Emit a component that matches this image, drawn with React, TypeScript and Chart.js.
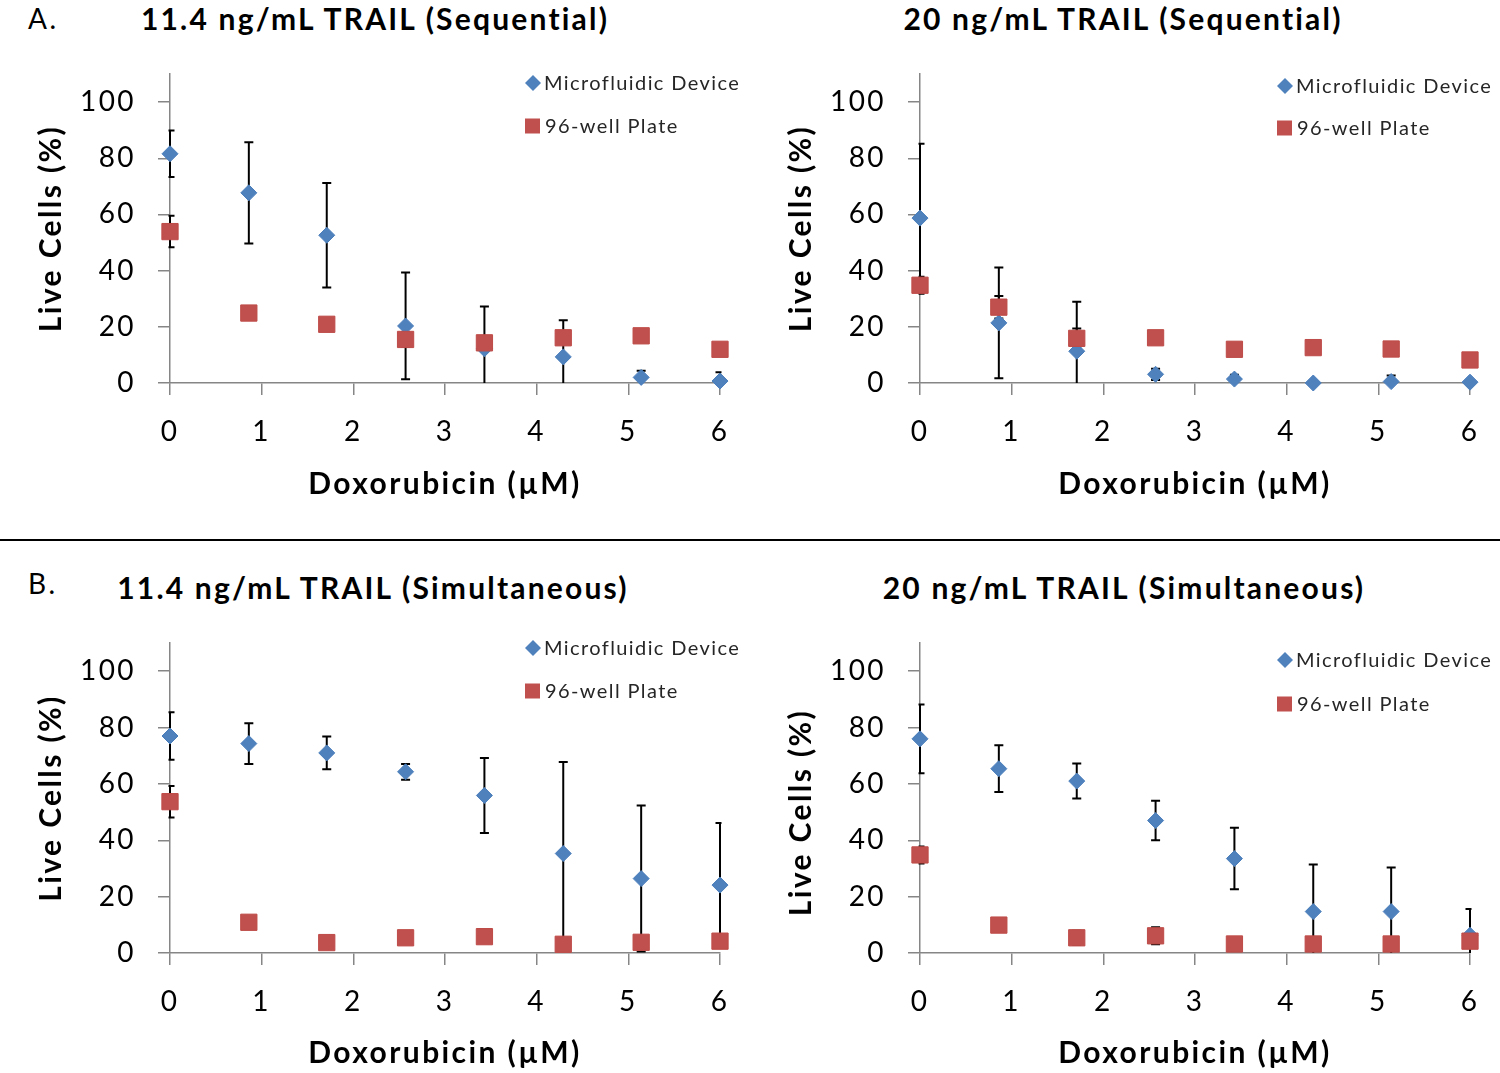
import React, { useEffect, useRef } from 'react';
import { Chart, registerables } from 'chart.js';

Chart.register(...registerables);

const FONT = 'Lato, "Open Sans", "Noto Sans", sans-serif';

// Doxorubicin concentrations (µM)
const doxorubicin = [0, 0.86, 1.71, 2.57, 3.43, 4.29, 5.14, 6];
const xTicks = [0, 1, 2, 3, 4, 5, 6];
const yTicks = [0, 20, 40, 60, 80, 100];

// A. 11.4 ng/mL TRAIL (Sequential)
const seqLowDevice = [81.6, 67.7, 52.6, 20.3, 12.2, 9.3, 2.0, 0.7];
const seqLowDeviceErr = [8.3, 18, 18.6, 19, 15, 13, 2.4, 3.1];
const seqLowPlate = [53.9, 24.9, 20.9, 15.5, 14.3, 16.1, 16.8, 12.0];
const seqLowPlateErr = [5.6, 1.5, 0, 2.5, 0, 0, 0, 2];

// A. 20 ng/mL TRAIL (Sequential)
const seqHighDevice = [58.7, 21.4, 11.3, 3.1, 1.4, 0, 0.5, 0.3];
const seqHighDeviceErr = [26.5, 19.7, 17.6, 2, 1.5, 0, 2.2, 0];
const seqHighPlate = [34.8, 27.0, 15.9, 16.1, 12.0, 12.6, 12.1, 8.2];
const seqHighPlateErr = [3, 4, 3.5, 1, 0, 0, 0, 0];

// B. 11.4 ng/mL TRAIL (Simultaneous)
const simLowDevice = [77.0, 74.3, 71.0, 64.3, 55.9, 35.3, 26.4, 24.1];
const simLowDeviceErr = [8.4, 7.2, 5.8, 2.8, 13.3, 32.5, 25.9, 22];
const simLowPlate = [53.7, 10.9, 3.7, 5.4, 5.8, 3.1, 3.8, 4.2];
const simLowPlateErr = [5.6, 1.5, 0, 2, 0, 0, 1, 2];

// B. 20 ng/mL TRAIL (Simultaneous)
const simHighDevice = [76.0, 65.4, 61.0, 47.0, 33.5, 14.7, 14.7, 6.3];
const simHighDeviceErr = [12.2, 8.3, 6.2, 7, 10.9, 16.7, 15.6, 9.3];
const simHighPlate = [34.8, 9.9, 5.4, 6.1, 3.2, 3.2, 3.2, 4.2];
const simHighPlateErr = [3, 0, 2.5, 3, 0, 0, 0, 2];

const seriesNames = ['Microfluidic Device', '96-well Plate'];
const xTitle = 'Doxorubicin (µM)';
const yTitle = 'Live Cells (%)';

const BLUE = '#4F81BD';
const BLUE_EDGE = '#4A7EBB';
const RED = '#C0504D';
const RED_EDGE = '#BE4B48';
const AXIS = '#868686';

const spacingPlugin = {
  id: 'letterSpacing',
  beforeDraw(chart: any) {
    (chart.ctx as any).letterSpacing = '2.4px';
  },
};

const errorBarPlugin = {
  id: 'errorBars',
  beforeDatasetsDraw(chart: any) {
    const { ctx, chartArea, scales } = chart;
    const x = scales.x;
    const y = scales.y;
    ctx.save();
    ctx.beginPath();
    ctx.rect(chartArea.left - 1.5, chartArea.top - 20, chartArea.right - chartArea.left + 3, chartArea.bottom - chartArea.top + 20);
    ctx.clip();
    ctx.strokeStyle = '#000';
    ctx.lineWidth = 2;
    chart.data.datasets.forEach((ds: any) => {
      const errs = ds.errors as number[] | undefined;
      if (!errs) return;
      ds.data.forEach((pt: any, i: number) => {
        const e = errs[i];
        if (!e) return;
        const px = x.getPixelForValue(pt.x);
        const top = y.getPixelForValue(pt.y + e);
        const bot = y.getPixelForValue(Math.max(pt.y - e, -5));
        ctx.beginPath();
        ctx.moveTo(px, top);
        ctx.lineTo(px, bot);
        ctx.moveTo(px - 4.5, top);
        ctx.lineTo(px + 4.5, top);
        if (pt.y - e >= 0) {
          ctx.moveTo(px - 4.5, bot);
          ctx.lineTo(px + 4.5, bot);
        }
        ctx.stroke();
      });
    });
    ctx.restore();
  },
};

const legendPlugin = {
  id: 'cornerLegend',
  afterDraw(chart: any) {
    const opts = chart.options.plugins.cornerLegend;
    if (!opts) return;
    const { ctx } = chart;
    ctx.save();
    (ctx as any).letterSpacing = '1.4px';
    ctx.font = `20px ${FONT}`;
    ctx.textBaseline = 'middle';
    ctx.textAlign = 'left';
    const ds = chart.data.datasets;
    // diamond
    const dx = opts.x + 8;
    const y1 = opts.y1;
    ctx.beginPath();
    ctx.moveTo(dx - 8, y1);
    ctx.lineTo(dx, y1 - 8);
    ctx.lineTo(dx + 8, y1);
    ctx.lineTo(dx, y1 + 8);
    ctx.closePath();
    ctx.fillStyle = BLUE;
    ctx.fill();
    ctx.fillStyle = '#262626';
    ctx.fillText(ds[0].label, opts.x + 19, y1 + 1);
    // square
    const y2 = opts.y2;
    ctx.fillStyle = RED;
    ctx.fillRect(opts.x, y2 - 7.5, 15, 15);
    ctx.fillStyle = '#262626';
    ctx.fillText(ds[1].label, opts.x + 20, y2 + 1);
    ctx.restore();
  },
};

type PanelProps = {
  left: number;
  top: number;
  width: number;
  height: number;
  padTop: number;
  padBottom: number;
  xHeight: number;
  xTitlePad: number;
  yTitleText: string;
  device: number[];
  deviceErr: number[];
  plate: number[];
  plateErr: number[];
  legendX: number;
  legendY1: number;
  legendY2: number;
};

function Panel(p: PanelProps) {
  const ref = useRef<HTMLCanvasElement>(null);
  useEffect(() => {
    const tickFont = { family: FONT, size: 28 };
    const titleFont = { family: FONT, size: 30, weight: 'bold' as const };
    const chart = new Chart(ref.current as HTMLCanvasElement, {
      type: 'scatter',
      data: {
        datasets: [
          {
            label: seriesNames[0],
            data: doxorubicin.map((x, i) => ({ x, y: p.device[i] })),
            errors: p.deviceErr,
            pointStyle: 'rectRot',
            pointRadius: 8,
            pointHoverRadius: 8,
            backgroundColor: BLUE,
            borderColor: BLUE_EDGE,
            borderWidth: 1,
            order: 2,
            clip: false,
          } as any,
          {
            label: seriesNames[1],
            data: doxorubicin.map((x, i) => ({ x, y: p.plate[i] })),
            errors: p.plateErr,
            pointStyle: 'rect',
            pointRadius: 11.5,
            pointHoverRadius: 11.5,
            backgroundColor: RED,
            borderColor: RED_EDGE,
            borderWidth: 1,
            order: 1,
            clip: false,
          } as any,
        ],
      },
      options: {
        responsive: false,
        animation: false,
        events: [],
        layout: {
          autoPadding: false,
          padding: { left: 0, top: p.padTop, right: 30, bottom: p.padBottom },
        },
        plugins: {
          legend: { display: false },
          tooltip: { enabled: false },
          cornerLegend: { x: p.legendX, y1: p.legendY1, y2: p.legendY2 },
        } as any,
        scales: {
          x: {
            type: 'linear',
            min: 0,
            max: 6,
            afterFit: (s: any) => {
              s.height = p.xHeight;
            },
            afterBuildTicks: (s: any) => {
              s.ticks = xTicks.map((v) => ({ value: v }));
            },
            ticks: {
              stepSize: 1,
              padding: 20,
              color: '#000',
              font: tickFont,
              maxRotation: 0,
            },
            grid: {
              drawOnChartArea: false,
              drawTicks: true,
              tickLength: 12,
              color: AXIS,
              lineWidth: 1.5,
            },
            border: { display: true, color: AXIS, width: 1.5 },
            title: {
              display: true,
              text: xTitle,
              color: '#000',
              font: titleFont,
              padding: { top: 0, bottom: p.xTitlePad },
            },
          },
          y: {
            type: 'linear',
            min: 0,
            max: 110,
            afterFit: (s: any) => {
              s.width = 170;
            },
            afterBuildTicks: (s: any) => {
              s.ticks = yTicks.map((v) => ({ value: v }));
            },
            ticks: {
              stepSize: 20,
              includeBounds: false,
              padding: 22,
              color: '#000',
              font: tickFont,
            },
            grid: {
              drawOnChartArea: false,
              drawTicks: true,
              tickLength: 12,
              color: AXIS,
              lineWidth: 1.5,
            },
            border: { display: true, color: AXIS, width: 1.5 },
            title: {
              display: true,
              text: p.yTitleText,
              color: '#000',
              font: titleFont,
              padding: { top: 33, bottom: 0 },
            },
          },
        },
      } as any,
      plugins: [spacingPlugin, errorBarPlugin, legendPlugin],
    });
    return () => chart.destroy();
  }, []);
  return (
    <canvas
      ref={ref}
      width={p.width}
      height={p.height}
      style={{ position: 'absolute', left: p.left, top: p.top, width: p.width, height: p.height }}
    />
  );
}

const textStyle: React.CSSProperties = {
  position: 'absolute',
  fontFamily: FONT,
  color: '#000',
  whiteSpace: 'nowrap',
  lineHeight: '36px',
  height: 36,
};

function Title({ cx, cy, text }: { cx: number; cy: number; text: string }) {
  return (
    <div style={{ ...textStyle, left: cx - 350, width: 700, top: cy - 18, textAlign: 'center', fontSize: 30, fontWeight: 700, letterSpacing: '2.2px' }}>
      {text}
    </div>
  );
}

export default function App() {
  return (
    <div style={{ position: 'absolute', left: 0, top: 0, width: 1500, height: 1073, background: '#fff', overflow: 'hidden' }}>
      <div style={{ ...textStyle, left: 28, top: 0, fontSize: 28, letterSpacing: '2.5px' }}>A.</div>
      <Title cx={375} cy={18} text="11.4 ng/mL TRAIL (Sequential)" />
      <Title cx={1123} cy={18} text="20 ng/mL TRAIL (Sequential)" />
      <Panel left={0} top={0} width={750} height={535} padTop={74} padBottom={22} xHeight={130} xTitlePad={11}
        yTitleText={yTitle}
        device={seqLowDevice} deviceErr={seqLowDeviceErr} plate={seqLowPlate} plateErr={seqLowPlateErr}
        legendX={525} legendY1={83} legendY2={126} />
      <Panel left={750} top={0} width={750} height={535} padTop={74} padBottom={22} xHeight={130} xTitlePad={11}
        yTitleText={yTitle}
        device={seqHighDevice} deviceErr={seqHighDeviceErr} plate={seqHighPlate} plateErr={seqHighPlateErr}
        legendX={527} legendY1={86} legendY2={128} />
      <div style={{ position: 'absolute', left: 0, top: 539, width: 1500, height: 2, background: '#000' }} />
      <div style={{ ...textStyle, left: 28, top: 565, fontSize: 28, letterSpacing: '2.5px' }}>B.</div>
      <Title cx={373} cy={587} text="11.4 ng/mL TRAIL (Simultaneous)" />
      <Title cx={1124} cy={587} text="20 ng/mL TRAIL (Simultaneous)" />
      <Panel left={0} top={535} width={750} height={538} padTop={108} padBottom={0} xHeight={120} xTitlePad={2}
        yTitleText={yTitle}
        device={simLowDevice} deviceErr={simLowDeviceErr} plate={simLowPlate} plateErr={simLowPlateErr}
        legendX={525} legendY1={113} legendY2={156} />
      <Panel left={750} top={535} width={750} height={538} padTop={108} padBottom={0} xHeight={120} xTitlePad={2}
        yTitleText={yTitle + '   '}
        device={simHighDevice} deviceErr={simHighDeviceErr} plate={simHighPlate} plateErr={simHighPlateErr}
        legendX={527} legendY1={125} legendY2={169} />
    </div>
  );
}
